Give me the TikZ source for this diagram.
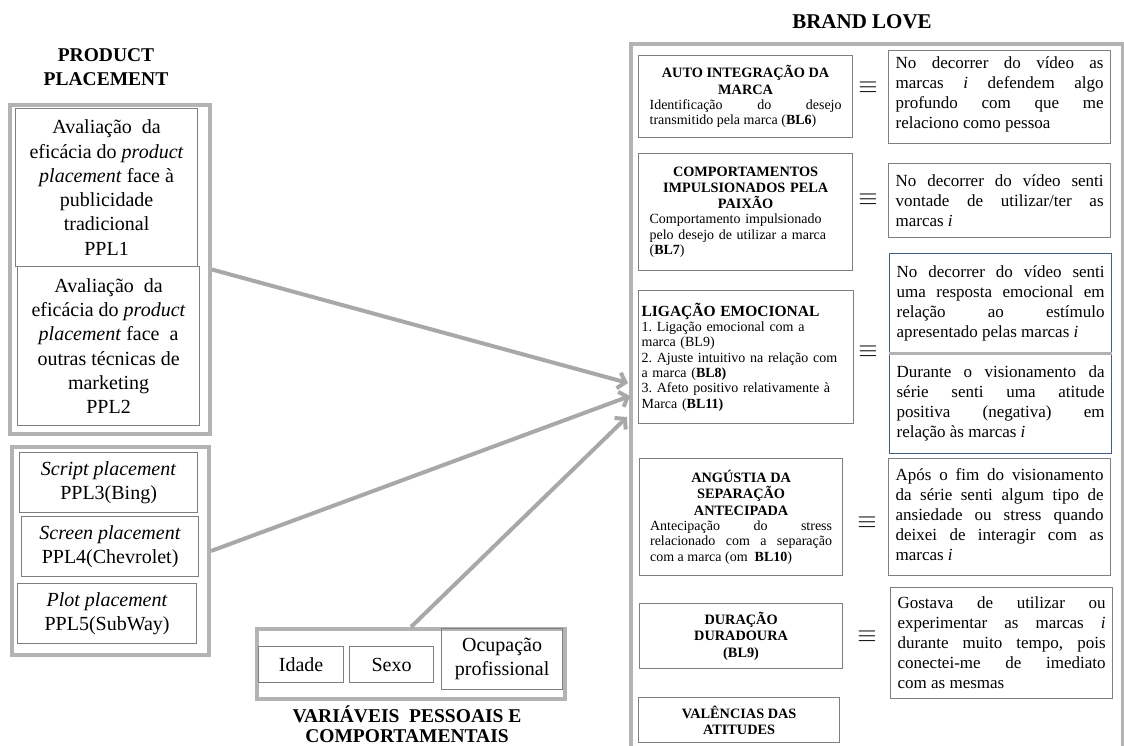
\documentclass[tikz,border=0pt]{standalone}
\usepackage{fontspec}
\setmainfont{Liberation Serif}
\usetikzlibrary{arrows.meta}
\definecolor{outgray}{HTML}{B3B3B3}
\definecolor{arrgray}{HTML}{A8A8A8}
\definecolor{ingray}{HTML}{7F7F7F}
\definecolor{bluebd}{HTML}{3F5F8A}
\hyphenpenalty=10000
\exhyphenpenalty=10000
\tolerance=10000
\frenchspacing
\newcommand\mybigtxt{\fontsize{20}{24.3}\selectfont}
\newcommand\myrtxt{\fontsize{17}{20}\selectfont}
\newcommand\mysmalltxt{\fontsize{14}{15.3}\selectfont}
\newcommand\mystitle{\fontsize{14.3}{16.3}\selectfont\bfseries}
\newcommand\mytitlefont{\fontsize{19.5}{24}\selectfont\bfseries}
\tikzset{
 outerbox/.style={draw=outgray, line width=4pt, inner sep=0pt, anchor=north west},
 innerbox/.style={draw=ingray, line width=1.2pt, inner sep=0pt, anchor=north west, align=center, font=\mybigtxt},
 sbox/.style={draw=ingray, line width=1.2pt, anchor=north west, inner ysep=0pt, font=\mysmalltxt},
 rbox/.style={draw=ingray, line width=1.2pt, anchor=north west, inner xsep=7pt, inner ysep=0pt, text width=208pt, align=justify, font=\myrtxt},
 bbox/.style={rbox, draw=bluebd},
 eqv/.style={font=\fontsize{24}{24}\selectfont, inner sep=0pt},
 arr/.style={draw=arrgray, line width=4pt, -{Straight Barb[length=7pt,width=16pt]}},
}
\begin{document}
\begin{tikzpicture}[x=1pt, y=-1pt]
\useasboundingbox (0,0) rectangle (1124,745);
% outer frames
\node[outerbox, minimum width=200pt, minimum height=329pt] (out1) at (8,103) {};
\node[outerbox, minimum width=197pt, minimum height=208pt] (out2) at (10,445) {};
\node[outerbox, minimum width=308pt, minimum height=70pt] (out3) at (255,627) {};
\node[outerbox, minimum width=492pt, minimum height=740pt] (out4) at (629,42) {};
% titles
\node[font=\mytitlefont, align=center] (pptitle) at (106,67) {PRODUCT\\PLACEMENT};
\node[font=\fontsize{21}{24}\selectfont\bfseries] (bltitle) at (862,22) {BRAND LOVE};
\node[font=\fontsize{19.5}{20}\selectfont\bfseries, align=center, inner sep=0pt] (vptitle) at (407,724) {VARIÁVEIS\ \ PESSOAIS E\\COMPORTAMENTAIS};
% product placement boxes
\node[innerbox, minimum width=182pt, minimum height=158pt] (ppl1) at (15,108) {Avaliação\ \ da\\ eficácia do \textit{product}\\ \textit{placement} face à\\ publicidade\\ tradicional\\ PPL1};
\node[innerbox, minimum width=182pt, minimum height=159pt] (ppl2) at (17,266) {Avaliação\ \ da\\ eficácia do \textit{product}\\ \textit{placement} face\ \ a\\ outras técnicas de\\ marketing\\ PPL2};
\node[innerbox, minimum width=178pt, minimum height=60pt] (ppl3) at (19,452) {\textit{Script placement}\\ PPL3(Bing)};
\node[innerbox, minimum width=177pt, minimum height=60pt] (ppl4) at (21,516) {\textit{Screen placement}\\ PPL4(Chevrolet)};
\node[innerbox, minimum width=179pt, minimum height=60pt] (ppl5) at (17,583) {\textit{Plot placement}\\ PPL5(SubWay)};
% personal variables
\node[innerbox, minimum width=85pt, minimum height=36pt] (idade) at (258,646) {Idade};
\node[innerbox, minimum width=84pt, minimum height=36pt] (sexo) at (349,646) {Sexo};
\node[innerbox, minimum width=121pt, minimum height=61pt] (ocup) at (441,628) {Ocupação\\ profissional};
% brand love dimensions
\node[sbox, minimum width=214pt, minimum height=82pt, text width=192pt, inner xsep=11pt, align=justify] (auto) at (638,55)
 {{\centering\mystitle AUTO INTEGRAÇÃO DA\\ MARCA\par}Identificação do desejo\linebreak transmitido pela marca (\textbf{BL6})};
\node[sbox, minimum width=214pt, minimum height=117pt, text width=192pt, inner xsep=11pt, align=left] (comp) at (638,153)
 {{\centering\mystitle COMPORTAMENTOS\\ IMPULSIONADOS PELA\\ PAIXÃO\par}Comportamento impulsionado\\ pelo desejo de utilizar a marca\\ (\textbf{BL7})};
\node[sbox, minimum width=215pt, minimum height=133pt, text width=209pt, inner xsep=3pt, align=left] (lig) at (638,290)
 {{\fontsize{15.5}{17}\selectfont\bfseries LIGAÇÃO EMOCIONAL}\\ 1. Ligação emocional com a\\ marca (BL9)\\ 2. Ajuste intuitivo na relação com\\ a marca (\textbf{BL8)}\\ 3. Afeto positivo relativamente à\\ Marca (\textbf{BL11)}};
\node[sbox, minimum width=203pt, minimum height=117pt, text width=182pt, inner xsep=10.5pt, align=justify] (ang) at (639,458)
 {{\centering\mystitle ANGÚSTIA DA\\ SEPARAÇÃO\\ ANTECIPADA\par}Antecipação do stress\linebreak relacionado com a separação\linebreak com a marca (om\ \ \textbf{BL10})};
\node[sbox, minimum width=203pt, minimum height=65pt, align=center, font=\mystitle] (dur) at (639,603) {DURAÇÃO\\ DURADOURA\\ (BL9)};
\node[sbox, minimum width=201pt, minimum height=45pt, align=center, font=\mystitle] (val) at (638,697) {VALÊNCIAS DAS\\ ATITUDES};
% equivalences
\node[eqv] (e1) at (868,88) {$\equiv$};
\node[eqv] (e2) at (868,200) {$\equiv$};
\node[eqv] (e3) at (868,352) {$\equiv$};
\node[eqv] (e4) at (867,523) {$\equiv$};
\node[eqv] (e5) at (867,637) {$\equiv$};
% items
\node[rbox, minimum height=93pt] (r1) at (888,50) {No decorrer do vídeo as\linebreak marcas \textit{i} defendem algo\linebreak profundo com que me\linebreak relaciono como pessoa\vspace{6pt}};
\node[rbox, minimum height=74pt] (r2) at (888,163) {No decorrer do vídeo senti\linebreak vontade de utilizar/ter as\linebreak marcas~\textit{i}};
\node[bbox, minimum height=99pt] (r3) at (889,253) {No decorrer do vídeo senti\linebreak uma resposta emocional em\linebreak relação ao estímulo\linebreak apresentado pelas marcas~\textit{i}};
\node[bbox, minimum height=101pt] (r4) at (889,352) {Durante o visionamento da\linebreak série senti uma atitude\linebreak positiva (negativa) em\linebreak relação às marcas~\textit{i}};
\draw[draw=outgray, line width=3pt] (r3.south west) -- (r3.south east);
\node[rbox, minimum height=117pt] (r5) at (888,458) {Após o fim do visionamento\linebreak da série senti algum tipo de\linebreak ansiedade ou stress quando\linebreak deixei de interagir com as\linebreak marcas~\textit{i}\vspace{6pt}};
\node[rbox, minimum height=111pt] (r6) at (890,587) {Gostava de utilizar ou\linebreak experimentar as marcas~\textit{i}\linebreak durante muito tempo, pois\linebreak conectei-me de imediato\linebreak com as mesmas};
% arrows
\coordinate (t1) at (628,383);
\coordinate (t2) at (630,396);
\coordinate (t3) at (627,417);
\draw[arr] (out1.east) -- (t1);
\draw[arr] (out2.east) -- (t2);
\draw[arr] (out3.north) -- (t3);
\end{tikzpicture}
\end{document}
